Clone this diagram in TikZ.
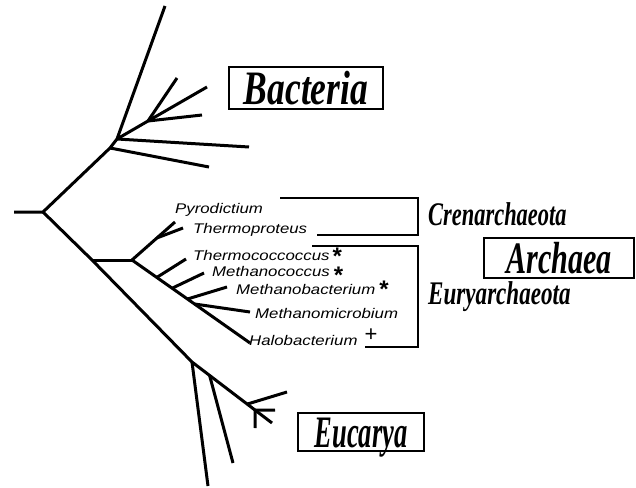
\documentclass[tikz,border=0pt]{standalone}
\usepackage{fontspec}
\usepackage{graphicx}
\setmainfont{Liberation Serif}
\newfontfamily\taxfont{Liberation Sans}
\usetikzlibrary{calc}
\newcommand\hstretch[2]{\scalebox{#1}[1]{#2}}
\newcommand\tagsign[3]{\hspace{#1}\raisebox{#2}[0pt][0pt]{\upshape #3}}
\tikzset{
  branch/.style={line width=3pt},
  bracketline/.style={line width=1.1pt},
  taxon/.style={anchor=base west, inner sep=0pt, font=\taxfont\itshape\fontsize{14}{14}\selectfont},
  phylum/.style={anchor=base west, inner sep=0pt, font=\fontsize{33}{33}\selectfont\bfseries\itshape},
  kingdom/.style={draw, line width=2.5pt, inner sep=0pt, text depth=0pt},
}
\newcommand\staritem{\fontsize{24}{24}\selectfont\bfseries *}
\newcommand\plusitem{\fontsize{22}{22}\selectfont +}
\begin{document}
\begin{tikzpicture}[x=1pt,y=-1pt]
\useasboundingbox (0,0) rectangle (636,487);
% --- Bacteria ---
\coordinate (r0) at (14,212);
\coordinate (r) at (43,212);
\coordinate (b0) at (110,148);
\coordinate (b1) at (117,139);
\coordinate (b2) at (148,121);
\coordinate (bt) at (165,6);
\coordinate (bx1) at (209,167);
\coordinate (bx2) at (249,147);
\coordinate (bx3) at (202,115);
\coordinate (bx4) at (207,87);
\coordinate (bx5) at (177,78);
\draw[branch] (r0) -- (r) -- (b0) -- (b1) -- (bt);
\draw[branch] (b0) -- (bx1);
\draw[branch] (b1) -- (bx2);
\draw[branch] (b1) -- (b2);
\draw[branch] (b2) -- (bx3);
\draw[branch] (b2) -- (bx4);
\draw[branch] (b2) -- (bx5);
% --- Archaea ---
\coordinate (eu1) at (192,362);
\coordinate (eend) at (272,423);
\coordinate (ae) at (92,260);
\coordinate (a) at (132,260);
\coordinate (ct) at (175,222);
\coordinate (c0) at ($(a)!0.58!(ct)$);
\coordinate (cx) at (183,228);
\coordinate (h) at (250,343);
\coordinate (e1) at ($(a)!0.21!(h)$);
\coordinate (e2) at ($(a)!0.34!(h)$);
\coordinate (e3) at ($(a)!0.47!(h)$);
\coordinate (e4) at ($(a)!0.53!(h)$);
\coordinate (ex1) at (186,259);
\coordinate (ex2) at (204,273);
\coordinate (ex3) at (227,287);
\coordinate (ex4) at (250,312);
\draw[branch] (r) -- (ae) -- (eu1) -- (eend);
\draw[branch] (ae) -- (a);
\draw[branch] (a) -- (ct);
\draw[branch] (c0) -- (cx);
\draw[branch] (a) -- (h);
\draw[branch] (e1) -- (ex1);
\draw[branch] (e2) -- (ex2);
\draw[branch] (e3) -- (ex3);
\draw[branch] (e4) -- (ex4);
% --- Eucarya ---
\coordinate (eu2) at ($(eu1)!0.22!(eend)$);
\coordinate (eu3) at ($(eu1)!0.69!(eend)$);
\coordinate (eu4) at ($(eu1)!0.79!(eend)$);
\coordinate (ux1) at (208,486);
\coordinate (ux2) at (233,463);
\coordinate (ux3) at (287,392);
\coordinate (ux4) at (275,410);
\coordinate (ux5) at (255,428);
\draw[branch] (eu1) -- (ux1);
\draw[branch] (eu2) -- (ux2);
\draw[branch] (eu3) -- (ux3);
\draw[branch] (eu4) -- (ux4);
\draw[branch] (eu4) -- (ux5);
% --- taxa ---
\node[taxon] (pyr) at (175,213) {\hstretch{1.2}{Pyrodictium}};
\node[taxon] (thp) at (193,233) {\hstretch{1.2}{Thermoproteus}};
\node[taxon] (thc) at (193,260) {\hstretch{1.2}{Thermococcoccus}\tagsign{3pt}{-4pt}{\staritem}};
\node[taxon] (mcc) at (212,276) {\hstretch{1.2}{Methanococcus}\tagsign{4pt}{-7pt}{\staritem}};
\node[taxon] (mbc) at (236,294) {\hstretch{1.2}{Methanobacterium}\tagsign{4pt}{-3pt}{\staritem}};
\node[taxon] (mmc) at (255,318) {\hstretch{1.2}{Methanomicrobium}};
\node[taxon] (hal) at (249,345) {\hstretch{1.2}{Halobacterium}\tagsign{7pt}{4pt}{\plusitem}};
% --- brackets ---
\coordinate (k1a) at (280,198);
\coordinate (k1b) at (418,198);
\coordinate (k1c) at (418,235);
\coordinate (k1d) at (317,235);
\coordinate (k2a) at (312,246);
\coordinate (k2b) at (418,246);
\coordinate (k2c) at (418,347);
\coordinate (k2d) at (365,347);
\draw[bracketline] (k1a) -- (k1b) -- (k1c) -- (k1d);
\draw[bracketline] (k2a) -- (k2b) -- (k2c) -- (k2d);
\node[phylum] (cren) at (428,225) {\hstretch{0.68}{Crenarchaeota}};
\node[phylum] (eury) at (428,304) {\hstretch{0.70}{Euryarchaeota}};
% --- kingdoms ---
\node[kingdom, minimum width=154pt, minimum height=42pt, text height=32pt] (bact) at (306,88)
  {\hstretch{0.74}{\fontsize{48}{48}\selectfont\bfseries\itshape Bacteria}};
\node[kingdom, minimum width=150pt, minimum height=40pt, text height=30pt] (arch) at (559,258)
  {\hstretch{0.67}{\fontsize{45}{45}\selectfont\bfseries\itshape Archaea}};
\node[kingdom, minimum width=126pt, minimum height=38pt, text height=30pt] (euc) at (361,432)
  {\hstretch{0.59}{\fontsize{45}{45}\selectfont\bfseries\itshape Eucarya}};
\end{tikzpicture}
\end{document}
